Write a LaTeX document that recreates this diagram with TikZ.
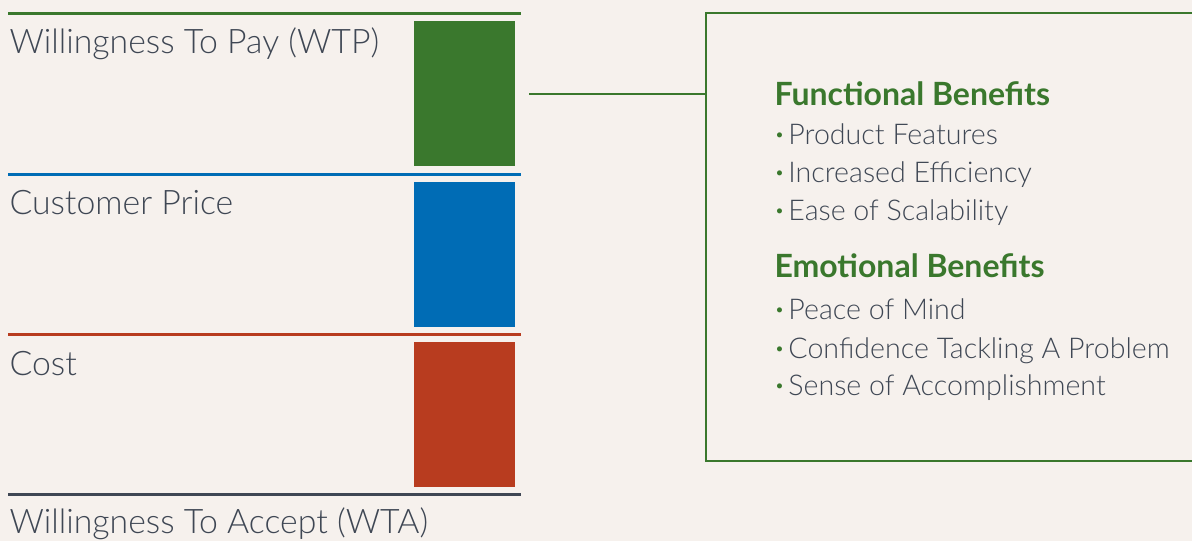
\documentclass[tikz,border=0pt]{standalone}
\usepackage{fontspec}
\setmainfont{Lato}[UprightFont={* Light},BoldFont={* Bold}]
\definecolor{bgcol}{HTML}{F6F1ED}
\definecolor{wgreen}{HTML}{3A782D}
\definecolor{wblue}{HTML}{006CB5}
\definecolor{wred}{HTML}{B83C1F}
\definecolor{wdark}{HTML}{3F4754}
\newcommand{\bul}{\textcolor{wgreen}{\raisebox{0.12em}{\scalebox{0.6}{\textbullet}}}\hspace{4pt}}

\begin{document}
\begin{tikzpicture}[x=1pt,y=-1pt,line width=3pt,
  label/.style={anchor=base west,inner sep=0,text=wdark,font=\fontsize{33.8}{40}\selectfont},
  head/.style={anchor=base west,inner sep=0,text=wgreen,font=\bfseries\fontsize{32}{38}\selectfont},
  item/.style={anchor=base west,inner sep=0,text=wdark,font=\fontsize{28.6}{34}\selectfont},
  bar/.style={inner sep=0,outer sep=0,minimum width=101pt,minimum height=145pt,anchor=north west}]

\fill [bgcol] (0,0) rectangle (1192,541);
\useasboundingbox (0,0) rectangle (1192,541);

\draw [wgreen] (8,13) -- (521,13);
\draw [wblue] (8,174) -- (521,174);
\draw [wred] (8,334) -- (521,334);
\draw [wdark] (8,494) -- (521,494);

\node [bar, fill=wgreen] (wtpbar) at (414,21) {};
\node [bar, fill=wblue] (pricebar) at (414,182) {};
\node [bar, fill=wred] (costbar) at (414,342) {};

\node [label] (wtp) at (8,53) {Willingness To Pay (WTP)};
\node [label] (price) at (8,214) {Customer Price};
\node [label] (cost) at (8,375) {Cost};
\node [label] (wta) at (8,533) {Willingness To Accept (WTA)};

\node [draw=wgreen, line width=2.5pt, outer sep=0, minimum width=504pt, minimum height=448pt, anchor=north west] (benefits) at (706,13) {};

\draw [wgreen, line width=2pt] ([xshift=14pt]wtpbar.east) -- (wtpbar.east -| benefits.west);

\node [head] (func) at (773,105) {Functional Benefits};
\node [item] (f1) at (773,144) {\bul Product Features};
\node [item] (f2) at (773,182) {\bul Increased Efficiency};
\node [item] (f3) at (773,220) {\bul Ease of Scalability};

\node [head] (emot) at (773,277) {Emotional Benefits};
\node [item] (e1) at (773,319) {\bul Peace of Mind};
\node [item] (e2) at (773,358) {\bul Confidence Tackling A Problem};
\node [item] (e3) at (773,395) {\bul Sense of Accomplishment};

\end{tikzpicture}
\end{document}
